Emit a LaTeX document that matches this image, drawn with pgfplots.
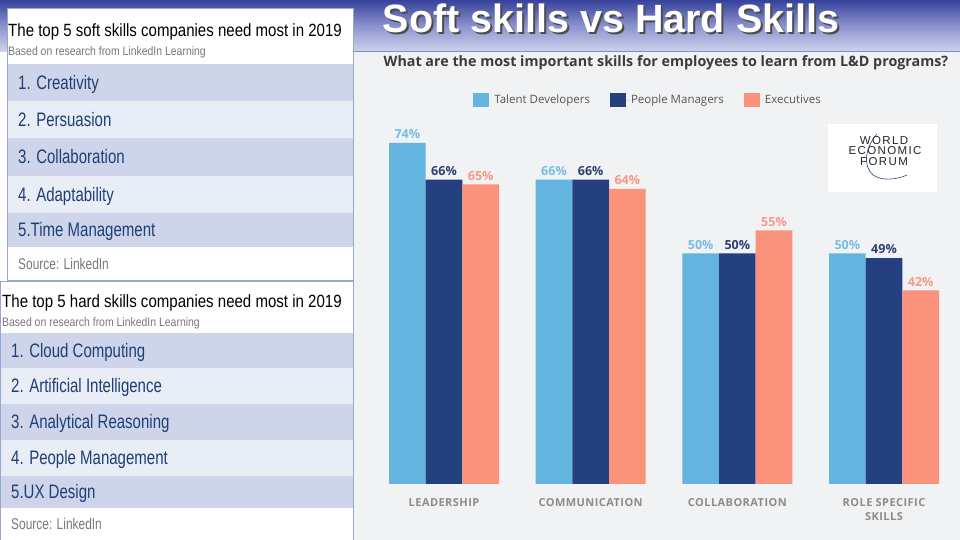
\documentclass[border=0pt]{standalone}
\usepackage{pgfplots}
\pgfplotsset{compat=1.18}
\usepackage{fontspec}
\setmainfont{Liberation Sans}
\newfontfamily\osans{Open Sans}
\newfontfamily\narrowfont[FakeStretch=0.77]{Liberation Sans}
\newfontfamily\ptitle[FakeStretch=0.85]{Liberation Sans}
\newfontfamily\weffont[LetterSpace=12]{Liberation Sans}
\newfontfamily\catfont[LetterSpace=4]{Open Sans}
\definecolor{bandtop}{RGB}{55,66,155}
\definecolor{bandmid}{RGB}{140,147,205}
\definecolor{bandbot}{RGB}{208,211,236}
\definecolor{linecol}{RGB}{125,145,196}
\definecolor{chartbg}{RGB}{241,242,244}
\definecolor{rowdark}{RGB}{206,213,234}
\definecolor{rowlight}{RGB}{233,237,246}
\definecolor{rowtext}{RGB}{30,62,118}
\definecolor{pborder}{RGB}{150,168,203}
\definecolor{srcgray}{RGB}{120,120,120}
\definecolor{c1}{RGB}{99,181,224}
\definecolor{c2}{RGB}{36,64,126}
\definecolor{c3}{RGB}{250,146,124}
\definecolor{l1}{RGB}{118,190,230}
\definecolor{l2}{RGB}{42,63,115}
\definecolor{l3}{RGB}{245,154,134}
\definecolor{catgray}{RGB}{140,140,140}
\definecolor{legtext}{RGB}{85,85,85}
\definecolor{titlegray}{RGB}{60,60,60}
\definecolor{wefblue}{RGB}{40,70,120}
\begin{document}
\begin{tikzpicture}[x=1pt,y=1pt]
\useasboundingbox (0,0) rectangle (960,540);
\fill[white] (0,0) rectangle (960,540);
\shade[top color=bandtop, bottom color=bandbot, middle color=bandmid] (0,488) rectangle (960,540);
\fill[chartbg] (353,0) rectangle (960,488);
\draw[linecol, line width=1.2] (353,488.5) -- (960,488.5);
% Title
\node[anchor=base west, inner sep=0pt, text=black!70, font=\bfseries\fontsize{39.5}{40}\selectfont] at (384.5,505) {Soft skills vs Hard Skills};
\node[anchor=base west, inner sep=0pt, text=white, font=\bfseries\fontsize{39.5}{40}\selectfont] at (382.5,507) {Soft skills vs Hard Skills};
% Panel 1
\fill[white] (7,260) rectangle (353,532);
\fill[rowdark] (7,439) rectangle (353,476);
\fill[rowlight] (7,402) rectangle (353,439);
\fill[rowdark] (7,364) rectangle (353,402);
\fill[rowlight] (7,327) rectangle (353,364);
\fill[rowdark] (7,293) rectangle (353,327);
\draw[pborder, line width=0.8] (7,260) rectangle (353,532);
\node[anchor=base west, inner sep=0pt, font=\ptitle\fontsize{17.7}{20}\selectfont] at (8,503) {The top 5 soft skills companies need most in 2019};
\node[anchor=base west, inner sep=0pt, text=srcgray, font=\ptitle\fontsize{12.3}{14}\selectfont] at (8,484) {Based on research from LinkedIn Learning};
\begin{scope}[every node/.style={anchor=base west, inner sep=0pt, text=rowtext, font=\narrowfont\fontsize{19.5}{22}\selectfont}]
\node at (18,450.5) {1. Creativity};
\node at (18,413.5) {2. Persuasion};
\node at (18,376) {3. Collaboration};
\node at (18,338.5) {4. Adaptability};
\node at (18,303) {5.Time Management};
\end{scope}
\node[anchor=base west, inner sep=0pt, text=srcgray, font=\narrowfont\fontsize{15.5}{18}\selectfont] at (18,270.5) {Source: LinkedIn};
% Panel 2
\fill[white] (0,0) rectangle (353,259);
\fill[rowdark] (0,172) rectangle (353,207);
\fill[rowlight] (0,136) rectangle (353,172);
\fill[rowdark] (0,100) rectangle (353,136);
\fill[rowlight] (0,64) rectangle (353,100);
\fill[rowdark] (0,32) rectangle (353,64);
\draw[pborder, line width=0.8] (0,-1) rectangle (353,259);
\node[anchor=base west, inner sep=0pt, font=\ptitle\fontsize{17.7}{20}\selectfont] at (2,232) {The top 5 hard skills companies need most in 2019};
\node[anchor=base west, inner sep=0pt, text=srcgray, font=\ptitle\fontsize{12.3}{14}\selectfont] at (2,213) {Based on research from LinkedIn Learning};
\begin{scope}[every node/.style={anchor=base west, inner sep=0pt, text=rowtext, font=\narrowfont\fontsize{19.5}{22}\selectfont}]
\node at (11,182.5) {1. Cloud Computing};
\node at (11,147) {2. Artificial Intelligence};
\node at (11,111) {3. Analytical Reasoning};
\node at (11,75) {4. People Management};
\node at (11,41) {5.UX Design};
\end{scope}
\node[anchor=base west, inner sep=0pt, text=srcgray, font=\narrowfont\fontsize{15.5}{18}\selectfont] at (11,10.5) {Source: LinkedIn};
% Chart title
\node[font=\osans\bfseries\fontsize{14.3}{16}\selectfont, text=titlegray, inner sep=0pt] at (666,477) {What are the most important skills for employees to learn from L\&D programs?};
% WEF logo
\fill[white] (828,348) rectangle (937,416);
\begin{scope}[every node/.style={inner sep=0pt, text=black!85, font=\weffont\fontsize{11.5}{11.5}\selectfont}]
\node at (884,399.5) {WORLD};
\node at (885,389) {ECONOMIC};
\node at (884,378.5) {FORUM};
\end{scope}
\draw[wefblue, line width=0.6] (877,406) .. controls (866,394) and (862,374) .. (873,365) .. controls (882,359) and (896,360) .. (907,365);
% Bar chart
\begin{axis}[
  at={(389pt,56pt)}, anchor=south west,
  width=550pt, height=368.8pt, scale only axis,
  xmin=-0.375, xmax=3.375, ymin=0, ymax=80,
  axis line style={draw=none}, major tick length=0pt,
  ytick=\empty, xtick={0,1,2,3},
  xticklabels={LEADERSHIP,COMMUNICATION,COLLABORATION,{ROLE SPECIFIC\\SKILLS}},
  xticklabel style={align=center, anchor=north, inner sep=0pt, yshift=-14pt, text=catgray, font=\catfont\bfseries\fontsize{11}{14}\selectfont},
  ybar, bar width=36.67pt, clip=false,
  /pgf/number format/assume math mode=true,
  nodes near coords={\pgfmathprintnumber{\pgfplotspointmeta}\%},
  every node near coord/.append style={inner sep=0pt, yshift=4pt, font=\osans\bfseries\fontsize{12.5}{14}\selectfont},
  legend columns=3,
  legend style={draw=none, fill=none, at={(axis description cs:0.471,1.041)}, anchor=center, font=\osans\fontsize{11.5}{13}\selectfont, text=legtext, /tikz/every even column/.append style={column sep=18pt}},
  legend image code/.code={\fill[#1] (0pt,-7pt) rectangle (16pt,7pt); \path (0pt,0pt) -- (19pt,0pt);},
]
\addplot[color=l1, fill=c1, draw=none, bar shift=-36.67pt] coordinates {(0,74) (1,66) (2,50) (3,50)};
\addplot[color=l2, fill=c2, draw=none, bar shift=0pt] coordinates {(0,66) (1,66) (2,50) (3,49)};
\addplot[color=l3, fill=c3, draw=none, bar shift=36.67pt] coordinates {(0,65) (1,64) (2,55) (3,42)};
\legend{Talent Developers, People Managers, Executives}
\end{axis}
\end{tikzpicture}
\end{document}
